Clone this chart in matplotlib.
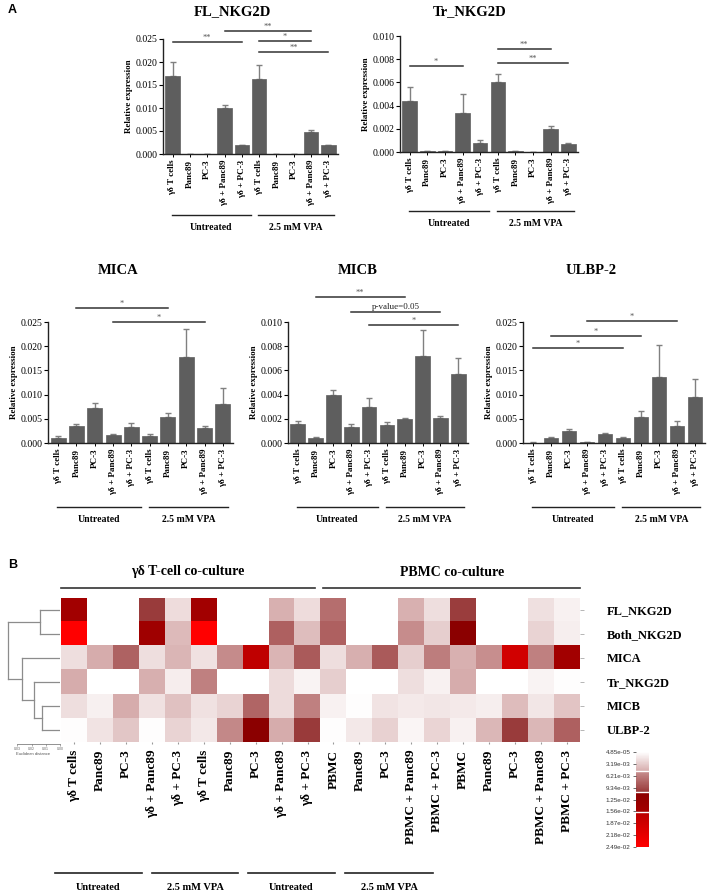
import numpy as np
import matplotlib
matplotlib.use("Agg")
import matplotlib.pyplot as plt
from matplotlib.colors import LinearSegmentedColormap
from matplotlib.ticker import FormatStrFormatter
from matplotlib.transforms import blended_transform_factory

# ---------------- data ----------------
bar_labels = ["γδ T cells", "Panc89", "PC-3", "γδ + Panc89", "γδ + PC-3",
              "γδ T cells", "Panc89", "PC-3", "γδ + Panc89", "γδ + PC-3"]
group_labels = ["Untreated", "2.5 mM VPA"]

fl_vals = [0.0170, 0.0, 0.0, 0.0099, 0.0019, 0.0164, 0.0, 0.0, 0.0048, 0.0019]
fl_err = [0.0030, 0.0, 0.0, 0.0007, 0.0001, 0.0029, 0.0, 0.0, 0.0004, 0.0001]
fl_sig = [(0, 4, 0.0244, "**"), (3, 8, 0.0267, "**"), (5, 8, 0.0245, "*"), (5, 9, 0.0222, "**")]

tr_vals = [0.0044, 0.00005, 0.00005, 0.0034, 0.0008, 0.0060, 0.00005, 0.00004, 0.0020, 0.0007]
tr_err = [0.0012, 0.0, 0.0, 0.0016, 0.00025, 0.0007, 0.0, 0.0, 0.00025, 0.00005]
tr_sig = [(0, 3, 0.0074, "*"), (5, 8, 0.0089, "**"), (5, 9, 0.0077, "**")]

mica_vals = [0.0011, 0.0035, 0.0073, 0.0017, 0.0033, 0.0014, 0.0054, 0.0178, 0.0031, 0.0081]
mica_err = [0.0003, 0.0004, 0.0009, 0.0002, 0.0008, 0.0004, 0.0008, 0.0057, 0.0004, 0.0032]
mica_sig = [(1, 6, 0.0279, "*"), (3, 8, 0.0249, "*")]

micb_vals = [0.00155, 0.00045, 0.0040, 0.0013, 0.0030, 0.00152, 0.0020, 0.0072, 0.0021, 0.0057]
micb_err = [0.00025, 0.00005, 0.0004, 0.0003, 0.00075, 0.0002, 0.0001, 0.0021, 0.00015, 0.0013]
micb_sig = [(1, 6, 0.01207, "**"), (3, 8, 0.01083, "p-value=0.05"), (4, 9, 0.00975, "*")]

ulbp_vals = [0.0001, 0.0010, 0.0024, 0.0002, 0.0019, 0.0010, 0.0053, 0.0137, 0.0036, 0.0096]
ulbp_err = [0.0001, 0.0003, 0.0005, 0.0001, 0.0001, 0.0003, 0.0014, 0.0066, 0.0010, 0.0036]
ulbp_sig = [(3, 8, 0.0252, "*"), (1, 6, 0.0221, "*"), (0, 5, 0.0196, "*")]

heat_rows = ["FL_NKG2D", "Both_NKG2D", "MICA", "Tr_NKG2D", "MICB", "ULBP-2"]
heat_cols = ["γδ T cells", "Panc89", "PC-3", "γδ + Panc89", "γδ + PC-3",
             "γδ T cells", "Panc89", "PC-3", "γδ + Panc89", "γδ + PC-3",
             "PBMC", "Panc89", "PC-3", "PBMC + Panc89", "PBMC + PC-3",
             "PBMC", "Panc89", "PC-3", "PBMC + Panc89", "PBMC + PC-3"]
heat_fl = [0.0152, 0, 0, 0.0104, 0.0021, 0.0152, 0, 0, 0.0048, 0.0021,
           0.0072, 0, 0, 0.0048, 0.0020, 0.0103, 0, 0, 0.0019, 0.0009]
heat_both = [0.0249, 0, 0, 0.0147, 0.0042, 0.0249, 0, 0, 0.0081, 0.0040,
             0.0081, 0, 0, 0.0052, 0.0030, 0.0108, 0, 0, 0.0027, 0.0011]
heat_mica = [0.0020, 0.0050, 0.0080, 0.0020, 0.0045, 0.0018, 0.0053, 0.0168, 0.0046, 0.0084,
             0.0020, 0.0049, 0.0084, 0.0030, 0.0062, 0.0048, 0.0051, 0.0190, 0.0060, 0.0152]
heat_tr = [0.0050, 0, 0, 0.0049, 0.0012, 0.0060, 0, 0, 0.0022, 0.0008,
           0.0030, 0, 0, 0.0020, 0.0009, 0.0050, 0, 0, 0.0008, 0.0002]
heat_micb = [0.0020, 0.0010, 0.0050, 0.0018, 0.0038, 0.0018, 0.0027, 0.0078, 0.0022, 0.0060,
             0.0009, 0.0002, 0.0017, 0.0014, 0.0016, 0.0014, 0.0011, 0.0041, 0.0016, 0.0036]
heat_ulbp = [0.0002, 0.0017, 0.0035, 0.0002, 0.0027, 0.0015, 0.0055, 0.0108, 0.0050, 0.0105,
             0.0002, 0.0015, 0.0028, 0.0007, 0.0026, 0.0009, 0.0044, 0.0104, 0.0044, 0.0081]
heat_min, heat_max = 4.85e-05, 2.49e-02
cbar_ticks = [4.85e-05, 3.19e-03, 6.21e-03, 9.34e-03, 1.25e-02, 1.56e-02, 1.87e-02, 2.18e-02, 2.49e-02]

# dendrogram merges: (left, right, distance); leaves 0..5 in heat_rows order
dendro_merges = [(0, 1, 0.0140), (4, 5, 0.0126), (3, 7, 0.0180), (2, 8, 0.0266), (6, 9, 0.0365)]
dist_ticks = [0.03, 0.02, 0.01, 0.00]

# ---------------- helpers ----------------
W, H = 708, 892
SERIF = ["Liberation Serif", "DejaVu Serif"]
SANS = ["Liberation Sans", "DejaVu Sans"]
fig = plt.figure(figsize=(W / 100, H / 100), dpi=100)
fig.patch.set_facecolor("white")


def rect(x0, y0, x1, y1):
    return [x0 / W, 1 - y1 / H, (x1 - x0) / W, (y1 - y0) / H]


def ftext(x, y, s, **kw):
    fig.text(x / W, 1 - y / H, s, **kw)


BAR_C = "#5e5e5e"


def bar_panel(r, vals, errs, ymax, sigs, title, title_xy, grp_y, txt_y):
    ax = fig.add_axes(rect(*r))
    x = np.arange(len(vals))
    ax.bar(x, vals, width=0.82, color=BAR_C, edgecolor=BAR_C, linewidth=0.5, zorder=2)
    ax.errorbar(x, vals, yerr=[np.zeros(len(errs)), errs], fmt="none",
                ecolor="#808080", elinewidth=1.0, capsize=2.2, capthick=1.0, zorder=1)
    ax.set_xlim(-0.55, len(vals) - 0.45)
    ax.set_ylim(0, ymax)
    ax.set_yticks(np.linspace(0, ymax, 6))
    ax.yaxis.set_major_formatter(FormatStrFormatter("%.3f"))
    for s in ["top", "right"]:
        ax.spines[s].set_visible(False)
    for s in ["left", "bottom"]:
        ax.spines[s].set_linewidth(1.0)
        ax.spines[s].set_color("#222222")
    ax.set_xticks(x)
    ax.set_xticklabels(bar_labels, rotation=90, fontsize=6.5, fontweight="bold", family=SERIF)
    ax.tick_params(axis="x", length=2.5, width=0.7, pad=1.5)
    ax.tick_params(axis="y", length=3, width=0.8, pad=1, labelsize=7)
    for lab in ax.get_yticklabels():
        lab.set_family(SERIF)
    ax.set_ylabel("Relative expression", fontsize=6.5, fontweight="bold", family=SERIF, labelpad=2)
    ax.set_facecolor("none")
    # significance
    for i, j, y, lab in sigs:
        ax.plot([i, j], [y, y], color="#333333", lw=1.1, clip_on=False)
        if lab.startswith("p"):
            ax.text((i + j) / 2, y + ymax * 0.005, lab, ha="center", va="bottom",
                    fontsize=6.5, family=SERIF, color="#222222")
        else:
            ax.text((i + j) / 2, y + ymax * 0.002, lab, ha="center", va="bottom",
                    fontsize=6, family=SERIF, color="#555555")
    ftext(title_xy[0], title_xy[1], title, ha="center", va="center",
          fontsize=10.5, fontweight="bold", family=SERIF)
    tr = blended_transform_factory(ax.transData, fig.transFigure)
    spans = [(-0.05, 4.5), (4.95, 9.3)]
    for (a, b), g in zip(spans, group_labels):
        ax.plot([a, b], [1 - grp_y / H] * 2, color="#222222", lw=1.0, transform=tr, clip_on=False)
        ax.text((a + b) / 2, 1 - txt_y / H, g, transform=tr, ha="center", va="center",
                fontsize=7, fontweight="bold", family=SERIF)
    return ax


bar_panel((163, 39, 338, 154), fl_vals, fl_err, 0.025, fl_sig, "FL_NKG2D", (232, 12), 215, 227)
bar_panel((400, 36, 578, 152), tr_vals, tr_err, 0.010, tr_sig, "Tr_NKG2D", (470, 12), 211, 223)
bar_panel((48, 322, 233, 443), mica_vals, mica_err, 0.025, mica_sig, "MICA", (118, 270), 507, 519)
bar_panel((288, 322, 468, 443), micb_vals, micb_err, 0.010, micb_sig, "MICB", (358, 270), 507, 519)
bar_panel((523, 322, 705, 443), ulbp_vals, ulbp_err, 0.025, ulbp_sig, "ULBP-2", (591, 270), 507, 519)

ftext(8, 10, "A", fontsize=9, fontweight="bold", family=SANS, ha="left", va="center")
ftext(8, 565, "B", fontsize=9, fontweight="bold", family=SANS, ha="left", va="center")

# ---------------- heatmap ----------------
cmap = LinearSegmentedColormap.from_list("heat", [
    (0.0, "#FFFFFF"), (0.2, "#D6ACAC"), (0.2001, "#C89090"), (0.425, "#983838"),
    (0.4251, "#8B0000"), (0.634, "#A50000"), (0.6341, "#B80000"), (1.0, "#FF0000")])
heat = np.array([heat_fl, heat_both, heat_mica, heat_tr, heat_micb, heat_ulbp])
hx0, hy0, hx1, hy1 = 61, 598, 580, 742
hax = fig.add_axes(rect(hx0, hy0, hx1, hy1))
im = hax.imshow(heat, cmap=cmap, vmin=heat_min, vmax=heat_max, aspect="auto", interpolation="nearest")
for s in hax.spines.values():
    s.set_visible(False)
hax.yaxis.tick_right()
hax.set_yticks(range(len(heat_rows)))
hax.set_yticklabels(heat_rows, fontsize=9, fontweight="bold", family=SERIF)
hax.tick_params(axis="y", length=3, width=0.5, color="#999999", pad=16)
hax.set_xticks(range(len(heat_cols)))
hax.set_xticklabels(heat_cols, rotation=90, fontsize=9.5, fontweight="bold", family=SERIF)
hax.tick_params(axis="x", length=1.5, width=0.8, color="#999999", pad=4)

ftext(188, 572, "γδ T-cell co-culture", ha="center", va="center", fontsize=10,
      fontweight="bold", family=SERIF)
ftext(452, 572, "PBMC co-culture", ha="center", va="center", fontsize=10,
      fontweight="bold", family=SERIF)
tr = blended_transform_factory(hax.transData, fig.transFigure)
hax.plot([-0.5, 9.3], [1 - 588 / H] * 2, color="#333333", lw=1.2, transform=tr, clip_on=False)
hax.plot([9.6, 19.5], [1 - 588 / H] * 2, color="#333333", lw=1.2, transform=tr, clip_on=False)

# bottom group labels
bottom_spans = [(55, 142), (152, 238), (248, 335), (345, 433)]
for (a, b), g in zip(bottom_spans, group_labels * 2):
    fig.add_artist(plt.Line2D([a / W, b / W], [1 - 873 / H] * 2, color="#222222", lw=1.2))
    ftext((a + b) / 2, 887, g, ha="center", va="center", fontsize=7.5, fontweight="bold", family=SERIF)

# ---------------- dendrogram ----------------
dax = fig.add_axes(rect(7, hy0, 60, hy1))
dax.set_ylim(len(heat_rows) - 0.5, -0.5)
dax.set_xlim(0.0372, 0)
dax.axis("off")
pos = {i: float(i) for i in range(len(heat_rows))}
hgt = {i: 0.0 for i in range(len(heat_rows))}
nid = len(heat_rows)
for a, b, d in dendro_merges:
    for c in (a, b):
        dax.plot([hgt[c], d], [pos[c], pos[c]], color="#8c8c8c", lw=0.9)
    dax.plot([d, d], [pos[a], pos[b]], color="#8c8c8c", lw=0.9)
    pos[nid] = (pos[a] + pos[b]) / 2
    hgt[nid] = d
    nid += 1

sax = fig.add_axes(rect(7, 743, 60, 744))
sax.set_xlim(0.0372, 0)
sax.set_yticks([])
for s in ["top", "right", "left"]:
    sax.spines[s].set_visible(False)
sax.spines["bottom"].set_bounds(0, 0.03)
sax.spines["bottom"].set_linewidth(0.5)
sax.spines["bottom"].set_color("#666666")
sax.set_xticks(dist_ticks)
sax.set_xticklabels(["%.2f" % t for t in dist_ticks], fontsize=2.5, family=SANS, color="#555555")
sax.tick_params(axis="x", length=1.2, width=0.4, pad=1, colors="#666666")
sax.set_xlabel("Euclidean distance", fontsize=3, family=SANS, color="#555555", labelpad=1)
sax.set_facecolor("none")

# ---------------- colorbar ----------------
cax = fig.add_axes(rect(636, 752, 649, 847))
cb = fig.colorbar(im, cax=cax, ticks=cbar_ticks)
cax.invert_yaxis()
cb.outline.set_visible(False)
cax.yaxis.set_ticks_position("left")
cax.set_yticklabels(["%.2e" % t for t in cbar_ticks], fontsize=4.5, family=SANS, color="#333333")
cax.tick_params(axis="y", length=2, width=0.5, pad=2, colors="#333333")
for f in (0.2, 0.425, 0.634):
    cax.axhline(heat_min + f * (heat_max - heat_min), color="white", lw=1.0)

fig.savefig("out.png", dpi=100, facecolor="white")
